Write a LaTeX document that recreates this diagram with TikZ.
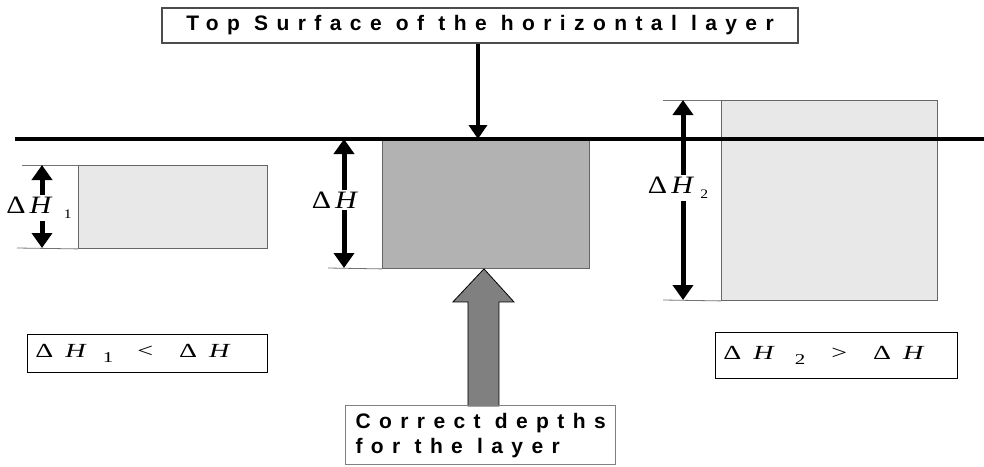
\documentclass[tikz,border=0pt]{standalone}
\usepackage{fontspec}
\setmainfont{Liberation Serif}
\newfontfamily\capfont[LetterSpace=40]{Liberation Sans Bold}
\newfontfamily\eqfont[FakeStretch=1.2]{Liberation Serif}
\newfontfamily\releqfont[FakeStretch=1.4]{Liberation Serif}
\usetikzlibrary{arrows.meta}

% delta H with a small index
\newcommand{\dH}[4]{Δ\hspace{#1}\textit{H}\hspace{#2}\raisebox{-5pt}{\fontsize{#3}{#3}\selectfont #4}}

\begin{document}
\begin{tikzpicture}[x=1pt,y=-1pt,
    capbox/.style={draw=black!70, line width=1.2pt, inner sep=0pt,
      font=\capfont\fontsize{21}{25}\selectfont},
    layer/.style={draw=black!60, line width=0.9pt, inner sep=0pt, anchor=north west},
    thinblock/.style={layer, fill=black!9},
    midblock/.style={layer, fill=black!30},
    surface/.style={line width=3.3pt},
    guide/.style={draw=black!55, line width=0.8pt},
    dim/.style={{Triangle[width=20pt,length=15pt]}-{Triangle[width=20pt,length=15pt]}, line width=5pt},
    pointer/.style={-{Triangle[width=18pt,length=14pt]}, line width=4pt},
    bigarrow/.style={draw=black, line width=0.8pt, fill=black!50},
    dimlabel/.style={fill=white, inner sep=2pt, font=\eqfont\fontsize{25}{25}\selectfont},
    relbox/.style={draw, line width=0.9pt, inner xsep=8pt, inner ysep=0pt, anchor=north west,
      align=left, font=\releqfont\fontsize{20}{20}\selectfont}
  ]
  \useasboundingbox (0,0) rectangle (984,466);

  % the three layer blocks
  \node[thinblock, minimum width=189pt, minimum height=83pt] (b1) at (78,165) {};
  \node[midblock, minimum width=207pt, minimum height=129pt] (b0) at (382,139) {};
  \node[thinblock, minimum width=216pt, minimum height=200pt] (b2) at (721,100) {};

  % surface line
  \coordinate (sl) at (15,139);
  \coordinate (sr) at (984,139);
  \draw[surface] (sl) -- (sr);

  % caption on top
  \node[capbox, minimum width=636pt, minimum height=35pt] (top) at (480,25.5)
    {Top Surface of the horizontal layer};
  \draw[pointer] (top.south -| b0.north) ++(-8,0) coordinate (pt) -- (pt |- b0.north);

  % extension lines
  \coordinate (e1a) at (22,165);
  \coordinate (e1b) at (17,248);
  \coordinate (e0b) at (328,268);
  \coordinate (e2a) at (663,100);
  \coordinate (e2b) at (663,300);
  \draw[guide] (e1a) -- (b1.north west);
  \draw[guide] (e1b) -- (b1.south west);
  \draw[guide] (e0b) -- (b0.south west);
  \draw[guide] (e2a) -- (b2.north west);
  \draw[guide] (e2b) -- (b2.south west);

  % depth arrows
  \coordinate (d1a) at (42,165);
  \coordinate (d1b) at (42,248);
  \coordinate (d0a) at (344,139);
  \coordinate (d0b) at (344,268);
  \coordinate (d2a) at (683,100);
  \coordinate (d2b) at (683,300);
  \draw[dim] (d1a) -- (d1b);
  \draw[dim] (d0a) -- (d0b);
  \draw[dim] (d2a) -- (d2b);
  \node[dimlabel] (l1) at (39,208) {\dH{4pt}{11pt}{13}{1}};
  \node[dimlabel] (l0) at (335,200) {Δ\hspace{4pt}\textit{H}};
  \node[dimlabel] (l2) at (678,188) {\dH{4pt}{6pt}{13}{2}};

  % correction arrow
  \draw[bigarrow] (b0.south) ++(-2,0) coordinate (tip)
    -- ++(30,33) -- ++(-15,0) -- ++(0,104) -- ++(-31,0) -- ++(0,-104) -- ++(-15,0) -- cycle;
  \node[capbox, draw=black!50, anchor=north west, align=left,
    inner xsep=10pt, minimum height=59pt] (fix) at (345,405)
    {Correct depths\\for the layer};

  % comparisons
  \node[relbox, text width=224pt, minimum height=38pt] (lt) at (27,334)
    {\dH{12pt}{16pt}{15}{1}\hspace{24pt}<\hspace{26pt}Δ\hspace{12pt}\textit{H}};
  \node[relbox, text width=226pt, minimum height=46pt] (gt) at (715,332)
    {\dH{12pt}{20pt}{15}{2}\hspace{26pt}>\hspace{26pt}Δ\hspace{12pt}\textit{H}};
\end{tikzpicture}
\end{document}
